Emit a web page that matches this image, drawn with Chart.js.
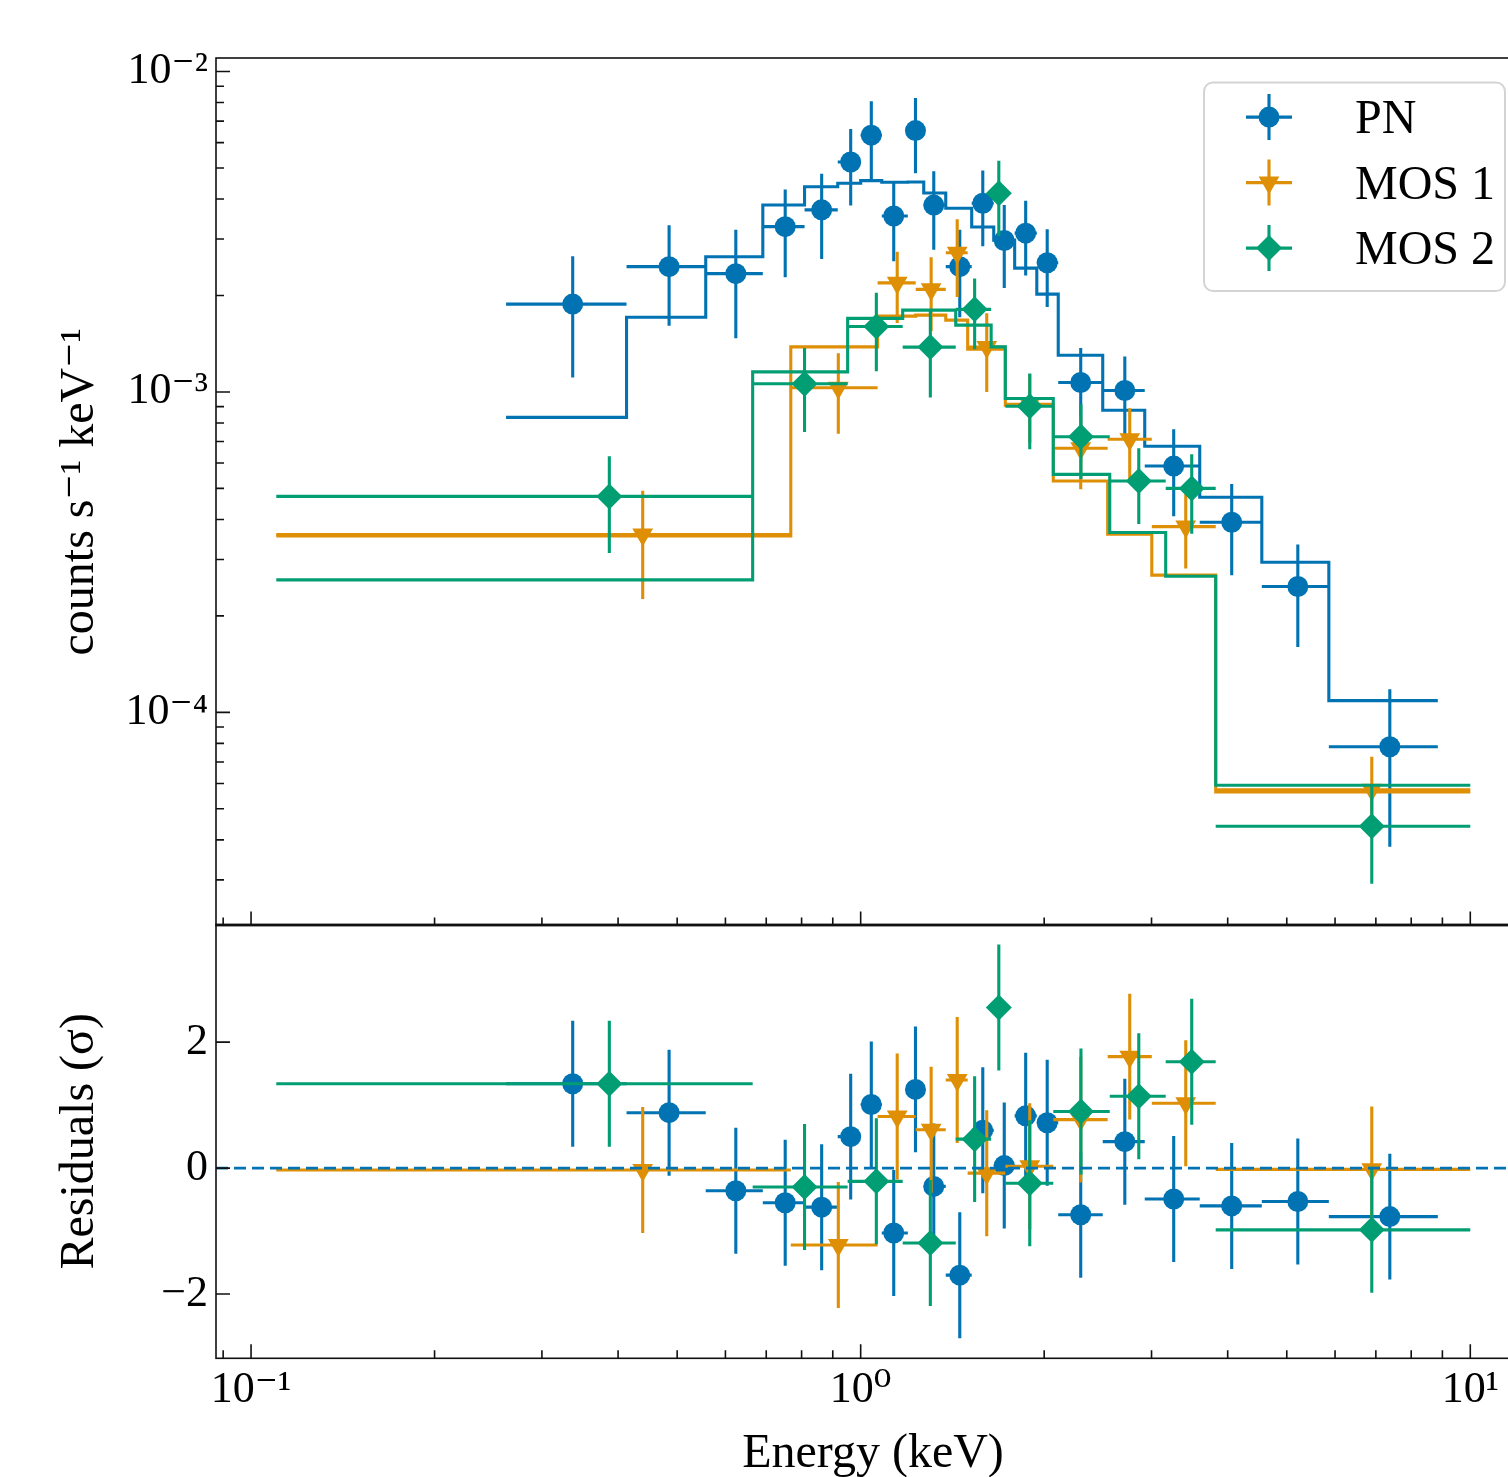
<!DOCTYPE html>
<html>
<head>
<meta charset="utf-8">
<title>Spectrum and residuals</title>
<script src="https://cdn.jsdelivr.net/npm/chart.js@4.4.1/dist/chart.umd.min.js"></script>
<style>
html, body { margin:0; padding:0; background:#ffffff; overflow:hidden; }
#wrap { position:relative; width:1508px; height:1477px; overflow:hidden; background:#ffffff; }
canvas { position:absolute; left:0; }
#topChart { top:0; }
#resChart { top:890px; }
</style>
</head>
<body>
<div id="wrap">
<canvas id="topChart" width="1545" height="960"></canvas>
<canvas id="resChart" width="1545" height="587"></canvas>
</div>
<script>
// ---------------- axis ranges & tick labels ----------------
const X_MIN = 0.0876, X_MAX = 12.53;
const TOP_Y_MIN = 2.16e-5, TOP_Y_MAX = 1.102e-2;
const RES_Y_MIN = -3.02, RES_Y_MAX = 3.87;
const X_MAJOR = [0.1, 1, 10];
const X_MAJOR_LABELS = ['10\u207B\u00B9', '10\u2070', '10\u00B9'];
const TOP_Y_MAJOR = [1e-4, 1e-3, 1e-2];
const TOP_Y_MAJOR_LABELS = ['10\u207B\u2074', '10\u207B\u00B3', '10\u207B\u00B2'];
const RES_Y_TICKS = [-2, 0, 2];
const RES_Y_LABELS = ['\u22122', '0', '2'];
const ZERO_LEVEL = 0;
const RESID_SIGMA = 1;

// ---------------- PN ----------------
const PN_E    = [0.337, 0.485, 0.624, 0.752, 0.863, 0.963, 1.041, 1.133, 1.230, 1.318, 1.454, 1.586, 1.720, 1.865, 2.023, 2.296, 2.712, 3.262, 4.061, 5.213, 7.379];
const PN_ELO  = [0.262, 0.413, 0.557, 0.691, 0.809, 0.917, 1.000, 1.083, 1.195, 1.269, 1.379, 1.521, 1.653, 1.789, 1.945, 2.109, 2.495, 2.924, 3.599, 4.550, 5.861];
const PN_EHI  = [0.413, 0.557, 0.691, 0.809, 0.917, 1.000, 1.083, 1.195, 1.269, 1.379, 1.521, 1.653, 1.789, 1.945, 2.109, 2.495, 2.924, 3.599, 4.550, 5.861, 8.846];
const PN_FLUX = [1.88e-3, 2.46e-3, 2.34e-3, 3.28e-3, 3.70e-3, 5.22e-3, 6.33e-3, 3.54e-3, 6.54e-3, 3.83e-3, 2.46e-3, 3.88e-3, 2.97e-3, 3.13e-3, 2.53e-3, 1.07e-3, 1.01e-3, 5.87e-4, 3.92e-4, 2.47e-4, 7.81e-5];
const PN_FERR = [7.7e-4, 8.5e-4, 8.7e-4, 1.0e-3, 1.1e-3, 1.4e-3, 1.74e-3, 9.8e-4, 1.73e-3, 1.05e-3, 7.5e-4, 1.03e-3, 8.6e-4, 8.2e-4, 6.9e-4, 3.0e-4, 2.8e-4, 1.78e-4, 1.24e-4, 8.7e-5, 4.0e-5];
const PN_MODEL = [8.33e-4, 1.711e-3, 2.641e-3, 3.833e-3, 4.371e-3, 4.479e-3, 4.564e-3, 4.512e-3, 4.522e-3, 4.177e-3, 3.743e-3, 3.271e-3, 2.978e-3, 2.435e-3, 2.020e-3, 1.302e-3, 8.77e-4, 6.77e-4, 4.69e-4, 2.94e-4, 1.088e-4];
const PN_RESID = [1.34, 0.88, -0.36, -0.55, -0.62, 0.50, 1.01, -1.03, 1.25, -0.29, -1.70, 0.60, 0.04, 0.83, 0.72, -0.74, 0.42, -0.49, -0.60, -0.53, -0.77];

// ---------------- MOS 1 ----------------
const M1_E    = [0.439, 0.919, 1.148, 1.305, 1.440, 1.610, 1.894, 2.296, 2.763, 3.414, 6.893];
const M1_ELO  = [0.110, 0.768, 1.066, 1.231, 1.379, 1.498, 1.727, 2.070, 2.542, 3.003, 3.823];
const M1_EHI  = [0.768, 1.066, 1.231, 1.379, 1.498, 1.727, 2.070, 2.542, 3.003, 3.823, 10.0];
const M1_FLUX = [3.59e-4, 1.03e-3, 2.19e-3, 2.09e-3, 2.72e-3, 1.38e-3, 9.15e-4, 6.67e-4, 7.12e-4, 3.80e-4, 5.73e-5];
const M1_FERR = [1.33e-4, 2.9e-4, 5.5e-4, 5.4e-4, 7.4e-4, 3.8e-4, 2.2e-4, 1.7e-4, 1.78e-4, 9.9e-5, 1.54e-5];
const M1_MODEL = [3.55e-4, 1.382e-3, 1.724e-3, 1.737e-3, 1.675e-3, 1.359e-3, 9.09e-4, 5.27e-4, 3.60e-4, 2.68e-4, 5.64e-5];
const M1_RESID = [-0.03, -1.22, 0.82, 0.61, 1.40, -0.08, 0.03, 0.77, 1.77, 1.03, -0.02];

// ---------------- MOS 2 ----------------
const M2_E    = [0.387, 0.809, 1.061, 1.301, 1.538, 1.685, 1.894, 2.298, 2.859, 3.492, 6.893];
const M2_ELO  = [0.110, 0.665, 0.952, 1.172, 1.432, 1.637, 1.727, 2.070, 2.562, 3.165, 3.823];
const M2_EHI  = [0.665, 0.952, 1.172, 1.432, 1.637, 1.727, 2.070, 2.562, 3.165, 3.823, 10.0];
const M2_FLUX = [4.72e-4, 1.06e-3, 1.60e-3, 1.38e-3, 1.81e-3, 4.17e-3, 9.02e-4, 7.25e-4, 5.27e-4, 5.00e-4, 4.41e-5];
const M2_FERR = [1.58e-4, 3.1e-4, 4.4e-4, 4.2e-4, 4.5e-4, 1.1e-3, 2.4e-4, 1.9e-4, 1.4e-4, 1.39e-4, 1.49e-5];
const M2_MODEL = [2.59e-4, 1.155e-3, 1.696e-3, 1.80e-3, 1.616e-3, 1.382e-3, 9.54e-4, 5.53e-4, 3.64e-4, 2.66e-4, 5.92e-5];
const M2_RESID = [1.34, -0.30, -0.21, -1.19, 0.46, 2.55, -0.24, 0.90, 1.14, 1.69, -0.98];

// ---------------- series table (built from arrays above) ----------------
const SERIES = [
  {label:'PN',    color:'#0173B2', style:'circle',   radius:10.5, rot:0,   E:PN_E, lo:PN_ELO, hi:PN_EHI, f:PN_FLUX, fe:PN_FERR, m:PN_MODEL, r:PN_RESID},
  {label:'MOS 1', color:'#DE8F05', style:'triangle', radius:12,   rot:180, E:M1_E, lo:M1_ELO, hi:M1_EHI, f:M1_FLUX, fe:M1_FERR, m:M1_MODEL, r:M1_RESID},
  {label:'MOS 2', color:'#029E73', style:'rectRot',  radius:13,   rot:0,   E:M2_E, lo:M2_ELO, hi:M2_EHI, f:M2_FLUX, fe:M2_FERR, m:M2_MODEL, r:M2_RESID}
];

const SERIF = "'Liberation Serif', 'DejaVu Serif', serif";
const LINE_W = 3.1;
Chart.defaults.font.family = SERIF;
Chart.defaults.color = '#000';

function logTicks(min, max) {
  const out = [];
  for (let d = Math.floor(Math.log10(min)); d <= Math.ceil(Math.log10(max)); d++) {
    for (let k = 1; k <= 9; k++) {
      const v = k * Math.pow(10, d);
      if (v >= min && v <= max) out.push(v);
    }
  }
  return out;
}
function isDecade(v) { const l = Math.log10(v); return Math.abs(l - Math.round(l)) < 1e-6; }
function labelFrom(majors, labels) {
  return (v) => {
    for (let i = 0; i < majors.length; i++) {
      if (Math.abs(v - majors[i]) <= Math.abs(majors[i]) * 1e-6 + 1e-12) return labels[i];
    }
    return '';
  };
}

// ---------- plugins ----------
const errBars = {
  id: 'errBars',
  beforeDatasetDraw(chart, args) {
    const ds = chart.data.datasets[args.index];
    if (!ds.err) return;
    const {ctx, chartArea: a} = chart;
    const xs = chart.scales.x, ys = chart.scales.y;
    ctx.save();
    ctx.beginPath(); ctx.rect(a.left, a.top, a.right - a.left, a.bottom - a.top); ctx.clip();
    ctx.strokeStyle = ds.borderColor; ctx.lineWidth = LINE_W; ctx.lineCap = 'butt';
    ctx.beginPath();
    ds.data.forEach((p, i) => {
      const px = xs.getPixelForValue(p.x), py = ys.getPixelForValue(p.y);
      ctx.moveTo(xs.getPixelForValue(ds.err.lo[i]), py);
      ctx.lineTo(xs.getPixelForValue(ds.err.hi[i]), py);
      ctx.moveTo(px, ys.getPixelForValue(p.y + ds.err.ye[i]));
      ctx.lineTo(px, ys.getPixelForValue(p.y - ds.err.ye[i]));
    });
    ctx.stroke();
    ctx.restore();
  }
};

const axesFrame = {
  id: 'axesFrame',
  afterDatasetsDraw(chart, args, opts) {
    const {ctx, chartArea: a} = chart;
    const xs = chart.scales.x, ys = chart.scales.y;
    ctx.save();
    ctx.strokeStyle = '#111'; ctx.lineWidth = 1.6;
    ctx.strokeRect(a.left, a.top, a.right - a.left, a.bottom - a.top);
    ctx.beginPath();
    xs.ticks.forEach(t => {
      const p = xs.getPixelForValue(t.value);
      if (p < a.left + 1 || p > a.right - 1) return;
      const len = isDecade(t.value) ? 14 : 8;
      ctx.moveTo(p, a.bottom); ctx.lineTo(p, a.bottom - len);
    });
    ys.ticks.forEach(t => {
      const p = ys.getPixelForValue(t.value);
      if (p < a.top - 0.5 || p > a.bottom + 0.5) return;
      const len = opts.logY ? (isDecade(t.value) ? 14 : 8) : 14;
      ctx.moveTo(a.left, p); ctx.lineTo(a.left + len, p);
    });
    ctx.stroke();
    ctx.restore();
  }
};

function drawMarker(ctx, style, r, x, y) {
  ctx.beginPath();
  if (style === 'circle') {
    ctx.arc(x, y, r, 0, Math.PI * 2);
  } else if (style === 'triangle') {
    ctx.moveTo(x, y + r);
    ctx.lineTo(x - r * Math.sqrt(3) / 2, y - r / 2);
    ctx.lineTo(x + r * Math.sqrt(3) / 2, y - r / 2);
    ctx.closePath();
  } else {
    ctx.moveTo(x, y - r); ctx.lineTo(x + r, y); ctx.lineTo(x, y + r); ctx.lineTo(x - r, y); ctx.closePath();
  }
  ctx.fill();
}

const errLegend = {
  id: 'errLegend',
  afterDraw(chart) {
    const {ctx, chartArea: a} = chart;
    const boxW = 301, boxH = 208.5;
    const bx = a.right - 25 - boxW, by = a.top + 24.5;
    ctx.save();
    ctx.beginPath();
    if (ctx.roundRect) ctx.roundRect(bx, by, boxW, boxH, 9); else ctx.rect(bx, by, boxW, boxH);
    ctx.fillStyle = 'rgba(255,255,255,0.85)'; ctx.fill();
    ctx.lineWidth = 2; ctx.strokeStyle = '#d4d4d4'; ctx.stroke();
    SERIES.forEach((s, i) => {
      const cx = bx + 65, cy = by + 34.6 + i * 65.5;
      ctx.strokeStyle = s.color; ctx.lineWidth = LINE_W;
      ctx.beginPath();
      ctx.moveTo(cx - 23, cy); ctx.lineTo(cx + 23, cy);
      ctx.moveTo(cx, cy - 23); ctx.lineTo(cx, cy + 23);
      ctx.stroke();
      ctx.fillStyle = s.color;
      drawMarker(ctx, s.style, s.radius, cx, cy);
      ctx.fillStyle = '#000';
      ctx.font = '48px ' + SERIF;
      ctx.textAlign = 'left'; ctx.textBaseline = 'alphabetic';
      ctx.fillText(s.label, bx + 151, cy + 16);
    });
    ctx.restore();
  }
};

// ---------- datasets ----------
const topDatasets = [];
const resDatasets = [];
SERIES.forEach((s, k) => {
  const pts = [];
  s.lo.forEach((lo, i) => { pts.push({x: lo, y: s.m[i]}); pts.push({x: s.hi[i], y: s.m[i]}); });
  topDatasets.push({
    label: s.label + ' model', data: pts, showLine: true, borderColor: s.color, backgroundColor: s.color,
    borderWidth: LINE_W, pointRadius: 0, tension: 0, order: 5 - 2 * k
  });
  topDatasets.push({
    label: s.label, data: s.E.map((e, i) => ({x: e, y: s.f[i]})),
    err: {lo: s.lo, hi: s.hi, ye: s.fe},
    borderColor: s.color, backgroundColor: s.color, pointStyle: s.style, pointRadius: s.radius,
    pointRotation: s.rot, pointBorderWidth: 0, showLine: false, order: 6 - 2 * k
  });
  resDatasets.push({
    label: s.label, data: s.E.map((e, i) => ({x: e, y: s.r[i]})),
    err: {lo: s.lo, hi: s.hi, ye: s.r.map(() => RESID_SIGMA)},
    borderColor: s.color, backgroundColor: s.color, pointStyle: s.style, pointRadius: s.radius,
    pointRotation: s.rot, pointBorderWidth: 0, showLine: false, order: 6 - 2 * k
  });
});
resDatasets.push({
  label: 'zero', data: [{x: X_MIN, y: ZERO_LEVEL}, {x: X_MAX, y: ZERO_LEVEL}], showLine: true,
  borderColor: '#0173B2', borderWidth: 2.6, borderDash: [12, 6], pointRadius: 0, order: 0
});

const xTickVals = logTicks(X_MIN, X_MAX);
const topYTickVals = logTicks(TOP_Y_MIN, TOP_Y_MAX);

const common = {
  responsive: false, animation: false, devicePixelRatio: 1,
  events: []
};

new Chart(document.getElementById('topChart'), {
  type: 'scatter',
  data: { datasets: topDatasets },
  options: Object.assign({}, common, {
    layout: { padding: { left: 0, right: 15, top: 58, bottom: 0 } },
    plugins: { legend: { display: false }, tooltip: { enabled: false }, axesFrame: { logY: true } },
    scales: {
      x: {
        type: 'logarithmic', min: X_MIN, max: X_MAX,
        grid: { display: false, drawTicks: false }, border: { display: false },
        ticks: { display: false, autoSkip: false },
        afterBuildTicks: s => { s.ticks = xTickVals.map(v => ({value: v})); },
        afterFit: s => { s.height = 10; }
      },
      y: {
        type: 'logarithmic', min: TOP_Y_MIN, max: TOP_Y_MAX,
        grid: { display: false, drawTicks: false }, border: { display: false },
        ticks: { autoSkip: false, padding: 8, font: { size: 44, family: SERIF }, color: '#000',
                 callback: labelFrom(TOP_Y_MAJOR, TOP_Y_MAJOR_LABELS) },
        afterBuildTicks: s => { s.ticks = topYTickVals.map(v => ({value: v})); },
        afterFit: s => { s.width = 216; },
        title: { display: true, text: 'counts s\u207B\u00B9 keV\u207B\u00B9', color: '#000',
                 font: { size: 48, family: SERIF }, padding: { top: 52, bottom: 0 } }
      }
    }
  }),
  plugins: [errBars, axesFrame, errLegend]
});

new Chart(document.getElementById('resChart'), {
  type: 'scatter',
  data: { datasets: resDatasets },
  options: Object.assign({}, common, {
    layout: { padding: { left: 0, right: 15, top: 25, bottom: 0 } },
    plugins: { legend: { display: false }, tooltip: { enabled: false }, axesFrame: { logY: false } },
    scales: {
      x: {
        type: 'logarithmic', min: X_MIN, max: X_MAX,
        grid: { display: false, drawTicks: false }, border: { display: false },
        ticks: { autoSkip: false, maxRotation: 0, padding: 6, font: { size: 44, family: SERIF }, color: '#000',
                 callback: labelFrom(X_MAJOR, X_MAJOR_LABELS) },
        afterBuildTicks: s => { s.ticks = xTickVals.map(v => ({value: v})); },
        afterFit: s => { s.height = 118.7; },
        title: { display: true, text: 'Energy (keV)', color: '#000',
                 font: { size: 48, family: SERIF, lineHeight: 0.96 }, padding: { top: 0, bottom: 0 } }
      },
      y: {
        type: 'linear', min: RES_Y_MIN, max: RES_Y_MAX,
        grid: { display: false, drawTicks: false }, border: { display: false },
        ticks: { autoSkip: false, padding: 8, font: { size: 44, family: SERIF }, color: '#000',
                 callback: labelFrom(RES_Y_TICKS, RES_Y_LABELS) },
        afterBuildTicks: s => { s.ticks = RES_Y_TICKS.map(v => ({value: v})); },
        afterFit: s => { s.width = 216; },
        title: { display: true, text: 'Residuals (\u03C3)', color: '#000',
                 font: { size: 48, family: SERIF }, padding: { top: 52, bottom: 0 } }
      }
    }
  }),
  plugins: [errBars, axesFrame]
});
</script>
</body>
</html>
